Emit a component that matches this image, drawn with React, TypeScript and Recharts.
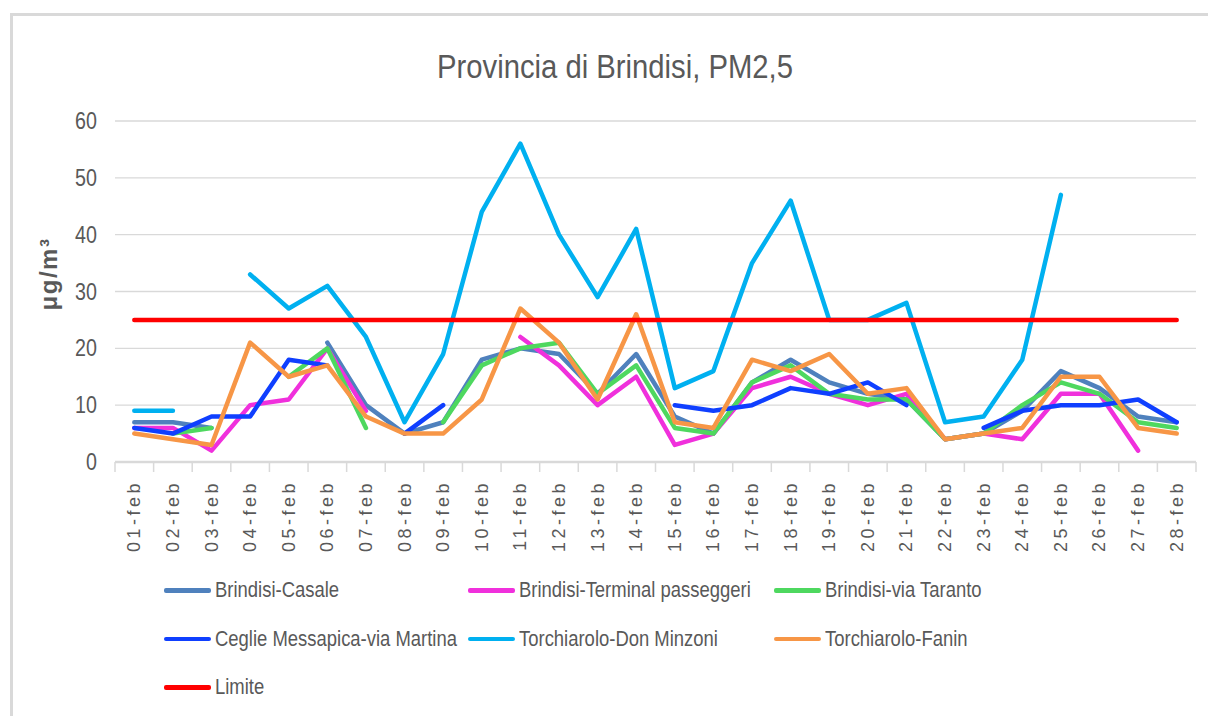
import React from 'react';
import { LineChart, Line, XAxis, YAxis, CartesianGrid, Legend, Label } from 'recharts';

const FONT = "'Liberation Sans', Arial, sans-serif";
const TEXT = '#595959';
const GRID = '#d9d9d9';
const NARROW = 0.82;

const days = [
  '01-feb', '02-feb', '03-feb', '04-feb', '05-feb', '06-feb', '07-feb',
  '08-feb', '09-feb', '10-feb', '11-feb', '12-feb', '13-feb', '14-feb',
  '15-feb', '16-feb', '17-feb', '18-feb', '19-feb', '20-feb', '21-feb',
  '22-feb', '23-feb', '24-feb', '25-feb', '26-feb', '27-feb', '28-feb',
];

const casale = [7, 7, 6, null, null, 21, 10, 5, 7, 18, 20, 19, 12, 19, 8, 5, 14, 18, 14, 12, 11, 4, 5, 9, 16, 13, 8, 7];
const terminal = [6, 6, 2, 10, 11, 20, 9, null, null, null, 22, 17, 10, 15, 3, 5, 13, 15, 12, 10, 12, 4, 5, 4, 12, 12, 2, null];
const taranto = [null, 5, 6, null, 15, 20, 6, null, 7, 17, 20, 21, 12, 17, 6, 5, 14, 17, 12, 11, 11, 4, 5, 10, 14, 12, 7, 6];
const ceglie = [6, 5, 8, 8, 18, 17, null, 5, 10, null, null, null, null, null, 10, 9, 10, 13, 12, 14, 10, null, 6, 9, 10, 10, 11, 7];
const donMinzoni = [9, 9, null, 33, 27, 31, 22, 7, 19, 44, 56, 40, 29, 41, 13, 16, 35, 46, 25, 25, 28, 7, 8, 18, 47, null, null, null];
const fanin = [5, 4, 3, 21, 15, 17, 8, 5, 5, 11, 27, 21, 11, 26, 7, 6, 18, 16, 19, 12, 13, 4, 5, 6, 15, 15, 6, 5];
const limite = days.map(() => 25);

const yTicks = [0, 10, 20, 30, 40, 50, 60];
const edgeTicks = [...days.keys(), days.length];

const series = [
  { name: 'Brindisi-Casale', values: casale, color: '#4F81BD' },
  { name: 'Brindisi-Terminal passeggeri', values: terminal, color: '#F030DC' },
  { name: 'Brindisi-via Taranto', values: taranto, color: '#4ED85F' },
  { name: 'Ceglie Messapica-via Martina', values: ceglie, color: '#0F3FFF' },
  { name: 'Torchiarolo-Don Minzoni', values: donMinzoni, color: '#00B0F0' },
  { name: 'Torchiarolo-Fanin', values: fanin, color: '#F79646' },
  { name: 'Limite', values: limite, color: '#FF0000' },
];
const order = series.map((s) => s.name);

const data = days.map((day, i) => {
  const row: Record<string, string | number | null> = { day, idx: i };
  series.forEach((s) => {
    row[s.name] = s.values[i];
  });
  return row;
});

const DayTick = (props: any) => {
  const { x, y, payload } = props;
  return (
    <text
      transform={`translate(${x + 6},${y + 9}) rotate(-90)`}
      textAnchor="end"
      fill={TEXT}
      fontFamily={FONT}
      fontSize={18}
      letterSpacing={3.5}
    >
      {payload.value}
    </text>
  );
};

const ValueTick = (props: any) => {
  const { x, y, payload } = props;
  return (
    <text
      transform={`translate(${x},${y + 8}) scale(${NARROW},1)`}
      textAnchor="end"
      fill={TEXT}
      fontFamily={FONT}
      fontSize={24}
    >
      {payload.value}
    </text>
  );
};

const renderLegend = (props: any) => {
  const items = [...(props.payload || [])].sort(
    (a: any, b: any) => order.indexOf(a.value) - order.indexOf(b.value),
  );
  return (
    <div
      style={{
        display: 'grid',
        gridTemplateColumns: '304px 306px 300px',
        paddingLeft: 164,
      }}
    >
      {items.map((p: any) => (
        <div key={p.value} style={{ display: 'flex', alignItems: 'center', height: 48.5 }}>
          <span
            style={{
              display: 'inline-block',
              flex: '0 0 47px',
              height: 4.5,
              borderRadius: 2,
              background: p.color,
              marginRight: 4,
            }}
          />
          <span
            style={{
              display: 'inline-block',
              fontFamily: FONT,
              fontSize: 22.5,
              color: TEXT,
              whiteSpace: 'nowrap',
              transform: `scaleX(${NARROW})`,
              transformOrigin: 'left center',
            }}
          >
            {p.value}
          </span>
        </div>
      ))}
    </div>
  );
};

export default function App() {
  return (
    <div style={{ position: 'absolute', left: 0, top: 0, width: 1208, height: 716, background: '#fff', overflow: 'hidden' }}>
      <div
        style={{
          position: 'absolute',
          left: 10,
          top: 13,
          width: 1220,
          height: 720,
          borderTop: `3px solid ${GRID}`,
          borderLeft: `3px solid ${GRID}`,
        }}
      />
      <div
        style={{
          position: 'absolute',
          left: 11,
          top: 44,
          width: 1208,
          lineHeight: '44px',
          textAlign: 'center',
          fontFamily: FONT,
          fontSize: 34,
          color: TEXT,
          transform: 'scaleX(0.86)',
        }}
      >
        Provincia di Brindisi, PM2,5
      </div>
      <div style={{ position: 'absolute', left: 0, top: 0 }}>
        <LineChart width={1208} height={716} data={data} margin={{ top: 121, right: 12, left: 0, bottom: 154 }}>
          <CartesianGrid xAxisId="b" vertical={false} stroke={GRID} strokeWidth={1.3} />
          <XAxis
            xAxisId="b"
            dataKey="day"
            scale="band"
            interval={0}
            height={99}
            axisLine={false}
            tickLine={false}
            tick={<DayTick />}
          />
          <XAxis
            xAxisId="a"
            type="number"
            dataKey="idx"
            domain={[0, days.length]}
            ticks={edgeTicks}
            interval={0}
            allowDataOverflow
            height={1}
            tickFormatter={() => ''}
            tickSize={10}
            tickLine={{ stroke: GRID, strokeWidth: 1.5 }}
            axisLine={{ stroke: GRID, strokeWidth: 2.5 }}
          />
          <YAxis
            domain={[0, 60]}
            ticks={yTicks}
            width={115}
            axisLine={false}
            tickLine={false}
            tickMargin={12}
            tick={<ValueTick />}
          >
            <Label
              content={() => (
                <text
                  transform="translate(57,274) rotate(-90)"
                  textAnchor="middle"
                  fill={TEXT}
                  fontFamily={FONT}
                  fontWeight="bold"
                  fontSize={24}
                  letterSpacing={1.5}
                >
                  μg/m³
                </text>
              )}
            />
          </YAxis>
          <Legend
            layout="horizontal"
            verticalAlign="middle"
            align="center"
            wrapperStyle={{ left: 0, top: 566, width: 1208 }}
            content={renderLegend}
          />
          {series.map((s) => (
            <Line
              key={s.name}
              xAxisId="b"
              type="linear"
              dataKey={s.name}
              name={s.name}
              stroke={s.color}
              strokeWidth={4.5}
              strokeLinecap="round"
              strokeLinejoin="round"
              dot={false}
              activeDot={false}
              connectNulls={false}
              isAnimationActive={false}
            />
          ))}
        </LineChart>
      </div>
    </div>
  );
}
